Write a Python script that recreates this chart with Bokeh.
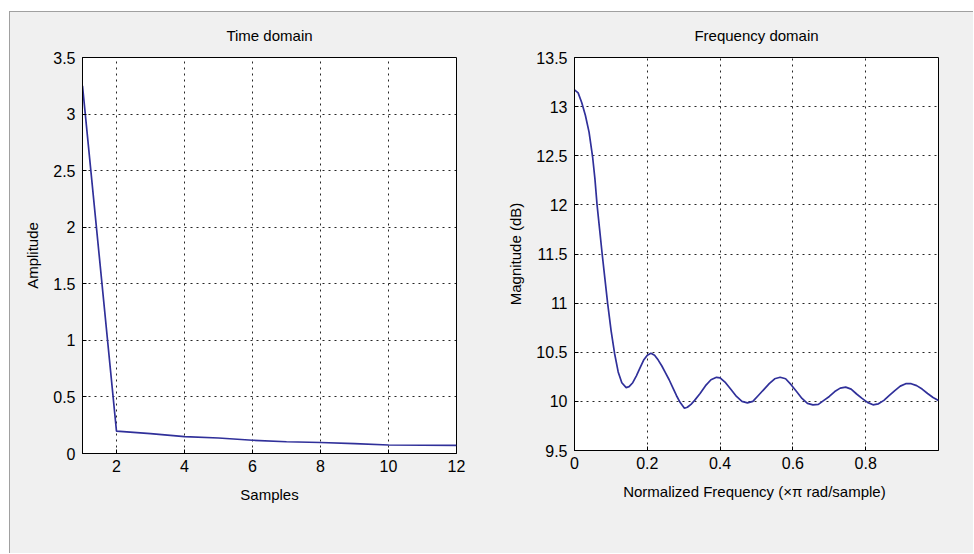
from bokeh.plotting import figure
from bokeh.layouts import row
from bokeh.models import Range1d, FixedTicker, CustomJSTickFormatter
from bokeh.embed import file_html
from bokeh.resources import INLINE

# ---------------- data ----------------
samples = [1, 2, 3, 4, 5, 6, 7, 8, 9, 10, 11, 12]
amplitude = [3.25, 0.197, 0.176, 0.150, 0.137, 0.117, 0.104, 0.097, 0.087, 0.075, 0.073, 0.071]

freq = [0.000, 0.010, 0.020, 0.030, 0.040, 0.050, 0.056, 0.062, 0.069, 0.076, 0.0835, 0.091,
        0.1005, 0.110, 0.120, 0.130, 0.142, 0.150, 0.160, 0.170, 0.180, 0.190, 0.200, 0.210,
        0.220, 0.230, 0.240, 0.250, 0.260, 0.270, 0.280, 0.290, 0.302, 0.310, 0.320, 0.330,
        0.345, 0.360, 0.375, 0.390, 0.400, 0.415, 0.430, 0.445, 0.460, 0.475, 0.490, 0.505,
        0.520, 0.535, 0.550, 0.565, 0.580, 0.595, 0.610, 0.625, 0.640, 0.655, 0.670, 0.685,
        0.700, 0.715, 0.730, 0.745, 0.760, 0.775, 0.790, 0.805, 0.820, 0.835, 0.850, 0.865,
        0.880, 0.895, 0.910, 0.925, 0.940, 0.955, 0.970, 0.985, 1.000]
magnitude_db = [13.17, 13.14, 13.04, 12.91, 12.74, 12.48, 12.27, 12.00, 11.75, 11.50, 11.25, 11.00,
                10.72, 10.49, 10.30, 10.19, 10.14, 10.15, 10.19, 10.26, 10.34, 10.42, 10.47, 10.49,
                10.47, 10.42, 10.36, 10.29, 10.22, 10.14, 10.06, 9.99, 9.93, 9.94, 9.97, 10.01,
                10.08, 10.16, 10.22, 10.245, 10.24, 10.19, 10.12, 10.05, 10.00, 9.985, 10.00, 10.06,
                10.12, 10.18, 10.23, 10.245, 10.23, 10.17, 10.10, 10.03, 9.98, 9.965, 9.97, 10.01,
                10.05, 10.10, 10.135, 10.145, 10.125, 10.075, 10.03, 9.99, 9.965, 9.975, 10.01, 10.06,
                10.11, 10.155, 10.18, 10.18, 10.16, 10.125, 10.08, 10.04, 10.01]

time_x_ticks = [2, 4, 6, 8, 10, 12]
time_x_labels = ["2", "4", "6", "8", "10", "12"]
time_y_ticks = [0, 0.5, 1, 1.5, 2, 2.5, 3, 3.5]
time_y_labels = ["0", "0.5", "1", "1.5", "2", "2.5", "3", "3.5"]
freq_x_ticks = [0, 0.2, 0.4, 0.6, 0.8]
freq_x_labels = ["0", "0.2", "0.4", "0.6", "0.8"]
freq_y_ticks = [9.5, 10, 10.5, 11, 11.5, 12, 12.5, 13, 13.5]
freq_y_labels = ["9.5", "10", "10.5", "11", "11.5", "12", "12.5", "13", "13.5"]

FONT = "Liberation Sans"
LINE = "#30309a"
BG = "#f0f0f0"


def fmt(tick_values, tick_labels):
    return CustomJSTickFormatter(
        args=dict(tvals=tick_values, tlabs=tick_labels),
        code="""
        for (let i = 0; i < tvals.length; i++) {
            if (Math.abs(tvals[i] - tick) < 1e-9) { return tlabs[i]; }
        }
        return '';
        """)


def style(p, xt, xl, yt, yl, xlabel, ylabel):
    p.title.text_font = FONT
    p.title.text_font_size = "15px"
    p.title.text_font_style = "normal"
    p.title.text_color = "black"
    p.title.align = "center"
    p.title.vertical_align = "middle"
    p.title.standoff = 25
    p.outline_line_color = "black"
    p.outline_line_width = 1
    p.outline_line_alpha = 1.0
    p.xaxis.ticker = FixedTicker(ticks=xt)
    p.yaxis.ticker = FixedTicker(ticks=yt)
    p.xaxis.formatter = fmt(xt, xl)
    p.yaxis.formatter = fmt(yt, yl)
    for ax in (p.xaxis, p.yaxis):
        ax.axis_line_color = "black"
        ax.major_tick_line_color = "black"
        ax.major_tick_in = 4
        ax.major_tick_out = 0
        ax.minor_tick_line_color = None
        ax.major_label_text_font = FONT
        ax.major_label_text_font_size = "16px"
        ax.major_label_text_color = "black"
        ax.axis_label_text_font = FONT
        ax.axis_label_text_font_size = "15px"
        ax.axis_label_text_font_style = "normal"
        ax.axis_label_text_color = "black"
    p.xaxis.axis_label = xlabel
    p.yaxis.axis_label = ylabel
    p.xaxis.major_label_standoff = 6
    p.yaxis.major_label_standoff = 7
    p.xaxis.axis_label_standoff = 11
    p.yaxis.axis_label_standoff = 9
    for g in (p.xgrid, p.ygrid):
        g.grid_line_color = "black"
        g.grid_line_dash = "2 4"
        g.grid_line_width = 1
        g.grid_line_alpha = 0.85
    p.xgrid.ticker = FixedTicker(ticks=xt)
    p.ygrid.ticker = FixedTicker(ticks=yt)


p1 = figure(title="Time domain", frame_width=374, frame_height=396,
            min_border_left=72, min_border_right=34, min_border_top=45, min_border_bottom=100,
            x_range=Range1d(1, 12), y_range=Range1d(0, 3.5),
            output_backend="svg", toolbar_location=None,
            background_fill_color="white", border_fill_color=BG)
p1.line(samples, amplitude, line_color=LINE, line_width=1.7)
style(p1, time_x_ticks, time_x_labels, time_y_ticks, time_y_labels, "Samples", "Amplitude")

p2 = figure(title="Frequency domain", frame_width=364, frame_height=393,
            min_border_left=84, min_border_right=35, min_border_top=45, min_border_bottom=103,
            x_range=Range1d(0, 1), y_range=Range1d(9.5, 13.5),
            output_backend="svg", toolbar_location=None,
            background_fill_color="white", border_fill_color=BG)
p2.line(freq, magnitude_db, line_color=LINE, line_width=1.7)
style(p2, freq_x_ticks, freq_x_labels, freq_y_ticks, freq_y_labels,
      "Normalized Frequency  (\u00d7\u03c0 rad/sample)", "Magnitude (dB)")

layout = row(p1, p2, spacing=0, margin=(11, 0, 0, 9),
             styles={"border-top": "1px solid #a0a0a0", "border-left": "1px solid #a0a0a0",
                     "background-color": BG})

open("out.html", "w").write(file_html(layout, INLINE))
